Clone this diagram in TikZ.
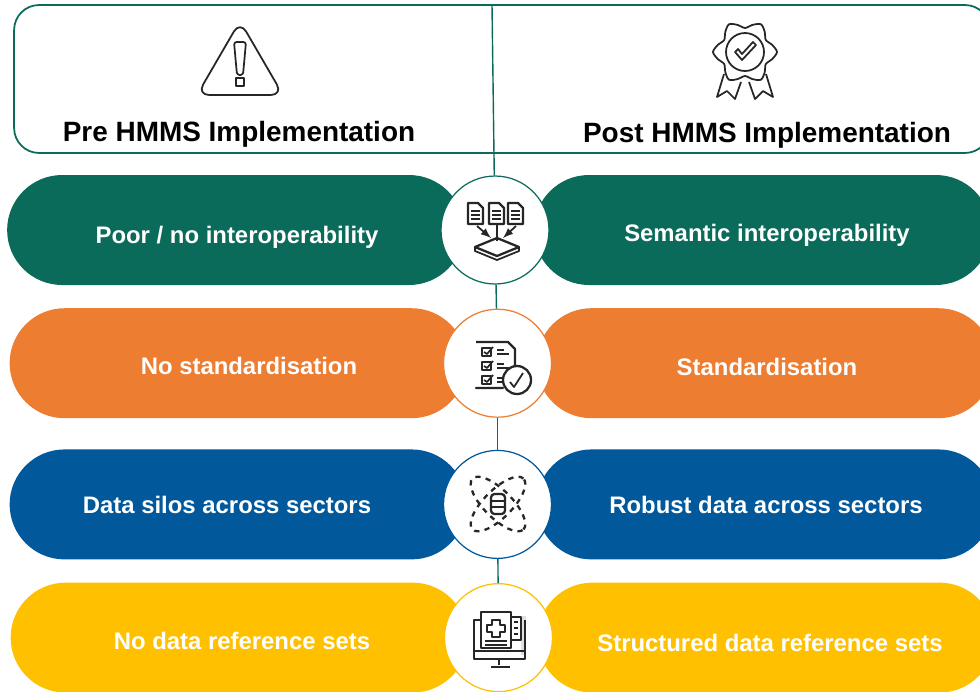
\documentclass[tikz,border=0pt]{standalone}
\usepackage{fontspec}
\setmainfont{Liberation Sans}
\usetikzlibrary{positioning,backgrounds}
\definecolor{hmmsteal}{HTML}{0B6B5A}
\definecolor{hmmsorange}{HTML}{ED7D31}
\definecolor{hmmsblue}{HTML}{01589B}
\definecolor{hmmsyellow}{HTML}{FFC000}
\begin{document}
\begin{tikzpicture}[
	x=0.02cm,y=-0.02cm,
	bar/.style={fill=#1,minimum width=9.14cm,minimum height=2.2cm,rounded corners=1.1cm,inner sep=0pt},
	hub/.style={circle,draw=#1,fill=white,line width=0.7pt,minimum size=2.16cm,inner sep=0pt},
	bartext/.style={text=white,text height=10pt,text depth=3pt,font=\bfseries\fontsize{13.6}{15}\selectfont},
	headtext/.style={text height=12pt,text depth=4pt,font=\bfseries\fontsize{15.9}{18}\selectfont},
	link/.style={draw=hmmsteal,line width=0.8pt},
	icon/.style={draw=black!85,line width=1pt,line join=round},
	thickicon/.style={icon,line width=1.3pt}
	]
	\useasboundingbox (0,0) rectangle (980,691);
	% header
	\node[draw=hmmsteal,line width=1pt,rounded corners=0.5cm,minimum width=19.52cm,minimum height=2.96cm,inner sep=0pt] (header) at (502,79) {};
	\coordinate (split) at (492,5);
	\node[headtext] (pre) at (239,134) {Pre HMMS Implementation};
	\node[headtext] (post) at (767,135) {Post HMMS Implementation};
	% hubs
	\node[hub=hmmsteal] (hubA) at (495,230) {};
	\node[hub=hmmsorange,below=0.48cm of hubA,xshift=0.05cm] (hubB) {};
	\node[hub=hmmsblue,below=0.64cm of hubB] (hubC) {};
	\node[hub=hmmsyellow,below=0.48cm of hubC,xshift=0.02cm] (hubD) {};
	% bars
	\begin{scope}[on background layer]
		\node[bar=hmmsteal,left=-0.48cm of hubA] (preA) {};
		\node[bar=hmmsteal,right=-0.32cm of hubA] (postA) {};
		\node[bar=hmmsorange,left=-0.48cm of hubB] (preB) {};
		\node[bar=hmmsorange,right=-0.32cm of hubB] (postB) {};
		\node[bar=hmmsblue,left=-0.48cm of hubC] (preC) {};
		\node[bar=hmmsblue,right=-0.32cm of hubC] (postC) {};
		\node[bar=hmmsyellow,left=-0.48cm of hubD] (preD) {};
		\node[bar=hmmsyellow,right=-0.32cm of hubD] (postD) {};
	\end{scope}
	\path[link]
		(split) edge (hubA)
		(hubA) edge (hubB)
		(hubB) edge (hubC)
		(hubC) edge (hubD);
	% bar labels
	\node[bartext] at (237,237) {Poor / no interoperability};
	\node[bartext] at (767,235) {Semantic interoperability};
	\node[bartext] at (249,368) {No standardisation};
	\node[bartext] at (767,369) {Standardisation};
	\node[bartext] at (227,507) {Data silos across sectors};
	\node[bartext] at (766,507) {Robust data across sectors};
	\node[bartext] at (242,643) {No data reference sets};
	\node[bartext] at (770,645) {Structured data reference sets};
	% warning icon
	\draw[icon,rounded corners=7pt] (240,21) -- (283,95) -- (197,95) -- cycle;
	\draw[icon,rounded corners=1.5pt] (234,42) -- (246,42) -- (243,75) -- (237,75) -- cycle;
	\draw[icon] (236,78) rectangle (244,86);
	% badge icon
	\draw[icon,smooth cycle] plot[samples at={0,15,...,345}] ({745+(28+4*cos(6*\x))*cos(\x)},{52+(28+4*cos(6*\x))*sin(\x)});
	\draw[icon] (745,52) circle (19*0.02cm);
	\draw[icon] (735,52) -- (742,60) -- (756,45) -- (753,42) -- (742,54) -- (738,49) -- cycle;
	\draw[icon] (724,74) -- (717,97) -- (727,91) -- (735,99) -- (741,82);
	\draw[icon] (766,74) -- (773,97) -- (763,91) -- (755,99) -- (749,82);
	% documents icon
	\foreach \docx in {468,489,508}{
		\draw[thickicon] (\docx,203) -- (\docx+10,203) -- (\docx+15,208) -- (\docx+15,224) -- (\docx,224) -- cycle;
		\draw[icon,line width=0.7pt] (\docx+3,211) -- (\docx+12,211) (\docx+3,215) -- (\docx+12,215) (\docx+3,219) -- (\docx+12,219);
	}
	\draw[icon,-latex] (477,226) -- (491,238);
	\draw[icon] (497,224) -- (497,241);
	\draw[icon,-latex] (516,226) -- (503,238);
	\draw[thickicon] (475,247) -- (497,238) -- (519,247) -- (497,256) -- cycle;
	\draw[icon] (475,247) -- (475,251) -- (497,260) -- (519,251) -- (519,247);
	% checklist icon
	\draw[thickicon] (476,342) -- (508,342) -- (515,349) -- (515,369) (503,388) -- (476,388) -- cycle;
	\foreach \rowy in {352,366,380}{
		\draw[thickicon] (482,\rowy-4) rectangle (491,\rowy+4);
		\draw[icon] (484,\rowy) -- (487,\rowy+2) -- (493,\rowy-5);
		\draw[icon] (497,\rowy-2) -- (504,\rowy-2) (497,\rowy+2) -- (509,\rowy+2);
	}
	\draw[thickicon,fill=white] (517,380) circle (14*0.02cm);
	\draw[icon] (510,382) -- (514,387) -- (523,373);
	% atom icon
	\draw[thickicon,dashed,rotate around={45:(498,504)}] (498,504) ellipse (36*0.02cm and 14*0.02cm);
	\draw[thickicon,dashed,rotate around={-45:(498,504)}] (498,504) ellipse (36*0.02cm and 14*0.02cm);
	\draw[thickicon,fill=white,rounded corners=2pt] (491,494) rectangle (505,514);
	\draw[icon] (491,501) -- (505,501) (491,507) -- (505,507);
	% monitor icon
	\fill[black!12] (521,616) rectangle (526,655);
	\draw[thickicon] (480,620) -- (474,620) -- (474,659) -- (525,659) -- (525,620);
	\draw[icon] (474,651) -- (525,651);
	\draw[icon] (499,659) -- (499,665) (491,667) -- (510,667);
	\draw[thickicon] (511,617) -- (521,617) -- (521,640) -- (511,640);
	\draw[icon] (514,622) -- (518,622) (514,628) -- (518,628) (514,634) -- (518,634);
	\draw[thickicon,fill=white] (481,612) rectangle (511,648);
	\draw[icon] (492,620) -- (500,620) -- (500,625) -- (505,625) -- (505,632) -- (500,632) -- (500,637) -- (492,637) -- (492,632) -- (487,632) -- (487,625) -- (492,625) -- cycle;
	\draw[icon] (485,641) -- (507,641) (485,645) -- (507,645);
\end{tikzpicture}
\end{document}
